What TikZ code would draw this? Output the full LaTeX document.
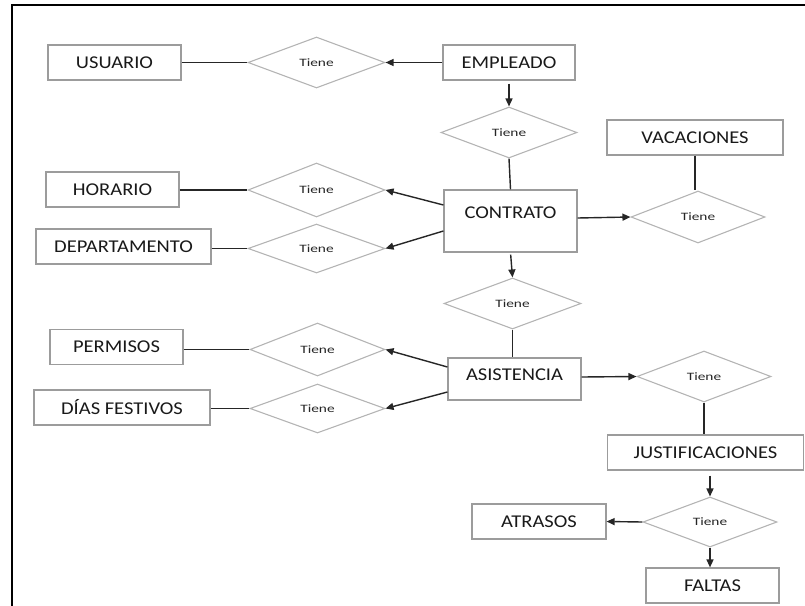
\documentclass[tikz,border=0pt]{standalone}
\usepackage{fontspec}
\setmainfont{Carlito}
\usepackage{graphicx}
\usetikzlibrary{shapes.geometric,arrows.meta}
\definecolor{boxgray}{HTML}{9C9C9C}
\definecolor{diagray}{HTML}{B4B4B4}
\definecolor{linec}{HTML}{262626}
\newcommand\bt[1]{\scalebox{1.14}[1]{#1}}
\newcommand\rtxt[1]{\scalebox{1.36}[1]{#1}}
\begin{document}
\begin{tikzpicture}[x=1pt,y=-1pt,
  ent/.style={draw=boxgray, line width=1.2pt, rectangle, inner sep=0pt, minimum height=35pt,
    font=\fontsize{18}{20}\selectfont, text=black!90},
  rel/.style={draw=diagray, line width=1.1pt, diamond, inner sep=0pt, minimum width=136pt, minimum height=51pt,
    font=\fontsize{11.3}{13}\selectfont, text=black!85},
  lbl/.style={font=\fontsize{18}{20}\selectfont, text=black!90, inner sep=0pt},
  conn/.style={draw=linec, line width=1.4pt},
  arr/.style={conn, -{Triangle[length=8pt,width=7pt]}}
]
\useasboundingbox (0,0) rectangle (805,605);
% frame
\draw[line width=2.6pt, black] (12,606) -- (12,5) -- (806,5);

% entities
\node[ent, minimum width=133pt] (usuario) at (114.5,62.5) {\bt{USUARIO}};
\node[ent, minimum width=132pt] (empleado) at (509,62.5) {\bt{EMPLEADO}};
\node[ent, minimum width=133pt, minimum height=62pt] (contrato) at (510.5,221) {};
\node[lbl] (contratolbl) at (510.5,213) {\bt{CONTRATO}};
\node[ent, minimum width=176pt] (vacaciones) at (695,137.5) {\bt{VACACIONES}};
\node[ent, minimum width=133pt] (horario) at (112.5,189.5) {\bt{HORARIO}};
\node[ent, minimum width=175pt] (departamento) at (123.5,246.5) {\bt{DEPARTAMENTO}};
\node[ent, minimum width=133pt, minimum height=42pt] (asistencia) at (514.5,379) {};
\node[lbl] (asistencialbl) at (514.5,375) {\bt{ASISTENCIA}};
\node[ent, minimum width=196pt] (justificaciones) at (705.5,452.5) {\bt{JUSTIFICACIONES}};
\node[ent, minimum width=134pt] (atrasos) at (539,521.5) {\bt{ATRASOS}};
\node[ent, minimum width=133pt] (faltas) at (712.5,585.5) {\bt{FALTAS}};
\node[ent, minimum width=133pt] (permisos) at (116.5,347) {\bt{PERMISOS}};
\node[ent, minimum width=176pt] (diasfestivos) at (122,407.5) {\bt{DÍAS FESTIVOS}};

% relationships
\node[rel, minimum width=137pt] (d1) at (316.5,62.5) {\rtxt{Tiene}};
\node[rel] (d2) at (509,132.5) {\rtxt{Tiene}};
\node[rel, minimum width=134pt, minimum height=52pt] (d3) at (698,217) {\rtxt{Tiene}};
\node[rel, minimum width=137pt, minimum height=54pt] (d4) at (316.5,190) {\rtxt{Tiene}};
\node[rel, minimum width=137pt, minimum height=49pt] (d5) at (316.5,248.5) {\rtxt{Tiene}};
\node[rel, minimum width=137pt] (d6) at (512.5,303.5) {\rtxt{Tiene}};
\node[rel, minimum width=134pt] (d7) at (704,376.5) {\rtxt{Tiene}};
\node[rel, minimum width=134pt, minimum height=50pt] (d8) at (710,522) {\rtxt{Tiene}};
\node[rel, minimum width=135pt, minimum height=53pt] (d9) at (317.5,349.5) {\rtxt{Tiene}};
\node[rel, minimum width=135pt, minimum height=49pt] (d10) at (317.5,408.5) {\rtxt{Tiene}};

% connectors
\draw[conn] (usuario.east) -- (d1.west);
\draw[arr] (empleado.west) -- (d1.east);
\draw[arr, shorten <=3pt] (empleado.south) -- (d2.north);
\draw[conn] (d2.south) -- (contrato.north);
\draw[arr] ([yshift=16pt]contrato.west) -- (d4.east);
\draw[arr] ([yshift=-10pt]contrato.west) -- (d5.east);
\draw[arr] ([yshift=3pt]contrato.east) -- (d3.west);
\draw[conn] (vacaciones.south) -- (vacaciones.south |- d3.north);
\draw[conn] (horario.east |- d4.west) -- (d4.west);
\draw[conn] (departamento.east |- d5.west) -- (d5.west);
\draw[arr, shorten <=2pt] (contrato.south) -- (d6.north);
\draw[conn] (d6.south) -- (d6.south |- asistencia.north);
\draw[arr] ([yshift=12pt]asistencia.west) -- (d9.east);
\draw[arr] ([yshift=-13pt]asistencia.west) -- (d10.east);
\draw[arr] ([yshift=2pt]asistencia.east) -- (d7.west);
\draw[conn] (d7.south) -- (d7.south |- justificaciones.north);
\draw[conn] (permisos.east |- d9.west) -- (d9.west);
\draw[conn] (diasfestivos.east |- d10.west) -- (d10.west);
\draw[arr, shorten <=5pt] (justificaciones.south -| d8.north) -- (d8.north);
\draw[arr] (d8.west) -- (atrasos.east);
\draw[arr] (d8.south) -- (d8.south |- faltas.north);
\end{tikzpicture}
\end{document}
